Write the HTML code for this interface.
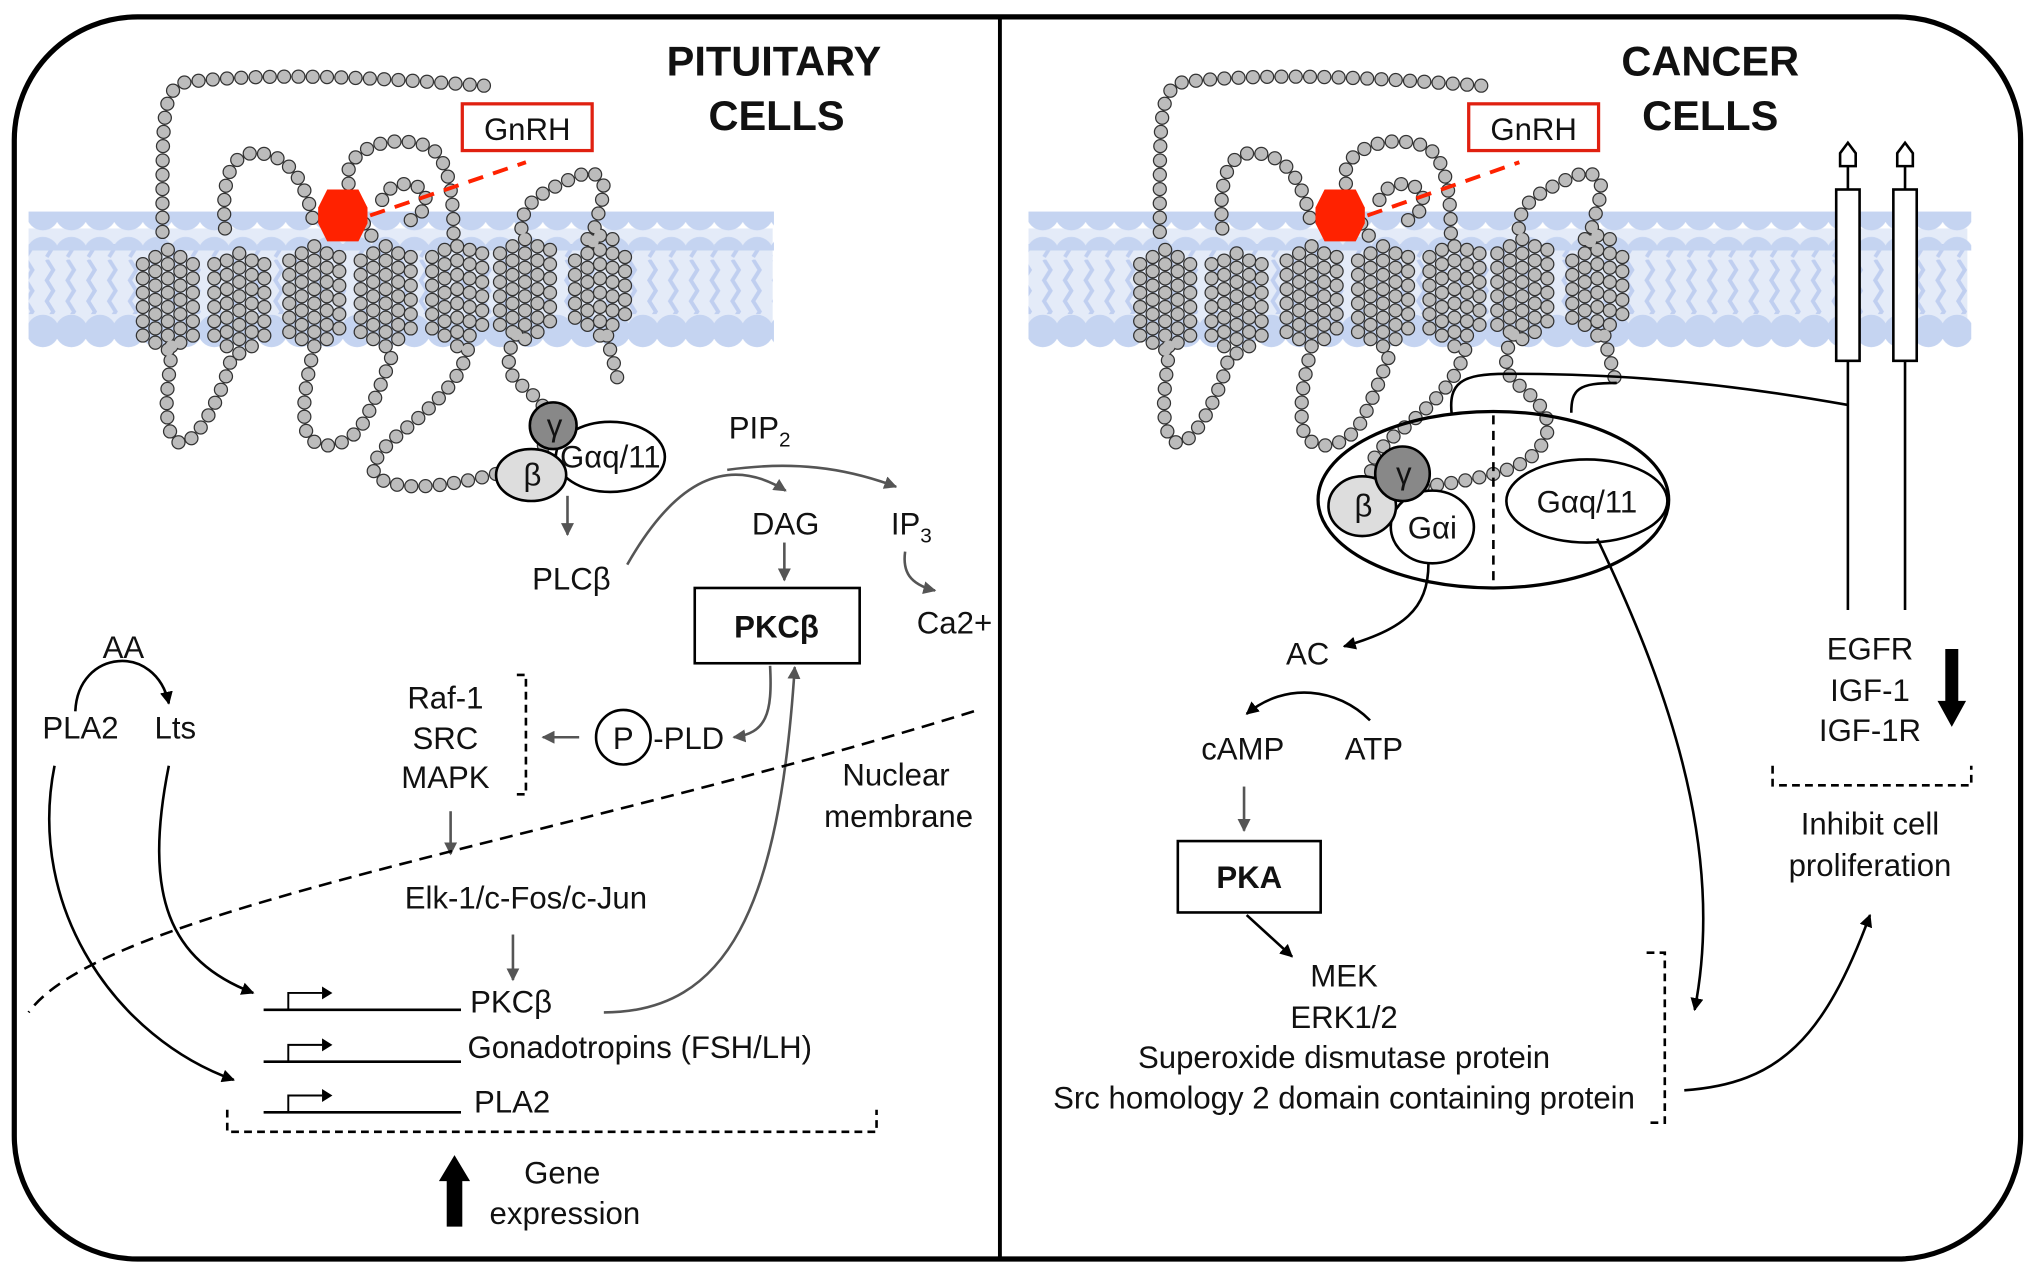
<!DOCTYPE html>
<html><head><meta charset="utf-8"><style>
html,body{margin:0;padding:0;background:#fff}
svg{display:block}
text{font-family:"Liberation Sans",sans-serif;font-size:24px;fill:#111}
.b{font-weight:bold}
</style></head><body>
<svg width="2031" height="1272" viewBox="0 0 1564 980" preserveAspectRatio="none" xmlns="http://www.w3.org/2000/svg">
<defs>
<marker id="ag" viewBox="0 0 10 10" refX="9" refY="5" markerWidth="5" markerHeight="5" orient="auto"><path d="M0,0L10,5L0,10z" fill="#555"/></marker>
<marker id="ab" viewBox="0 0 10 10" refX="9" refY="5" markerWidth="5" markerHeight="5" orient="auto"><path d="M0,0L10,5L0,10z" fill="#000"/></marker>
<pattern id="hp" x="0" y="0" width="22" height="30" patternUnits="userSpaceOnUse"><circle cx="11" cy="15" r="12.5" fill="#c5d4f1"/></pattern>
<pattern id="tp" x="0" y="0" width="16" height="50" patternUnits="userSpaceOnUse"><path d="M4,0 l5,8 -5,8 5,8 -5,8 5,8 -5,8" stroke="#c0cff0" stroke-width="3" fill="none"/></pattern>
<g id="ch">
<path d="M1075,100 C800,80 500,60 240,90 C170,110 175,200 175,520 M200,830 C200,900 170,1000 200,1080 C230,1130 270,1080 300,1030 C340,960 360,900 370,850 M350,500 C340,380 360,300 420,290 C520,280 580,360 600,500 M600,830 C580,920 560,1000 580,1080 C620,1130 700,1110 740,1040 C780,960 800,900 820,850 M760,520 C720,460 680,380 700,320 C740,260 830,240 920,270 C970,300 990,380 990,520 M790,420 C800,380 860,360 900,390 C930,420 900,480 850,480 M1030,840 C1010,920 950,980 870,1050 C790,1110 740,1170 780,1200 C850,1240 980,1220 1100,1190 C1180,1170 1240,1140 1260,1070 C1270,1000 1200,960 1160,920 C1130,880 1150,820 1170,790 M1180,500 C1180,440 1220,410 1280,380 C1340,350 1390,320 1410,380 C1410,440 1380,480 1380,540 M1420,800 C1430,860 1450,900 1450,940"/>
<path d="M120,800V560 M155,820V540 M190,840V530 M225,820V540 M260,800V560"/>
<path d="M320,800V570 M355,830V550 M390,850V540 M425,830V555 M460,800V580"/>
<path d="M530,790V560 M565,810V540 M600,830V520 M635,810V540 M670,780V560"/>
<path d="M730,790V560 M765,810V540 M800,830V520 M835,810V540 M870,780V560"/>
<path d="M930,780V560 M965,800V530 M1000,830V510 M1035,800V530 M1070,770V560"/>
<path d="M1120,770V550 M1155,790V520 M1190,810V500 M1225,790V520 M1260,760V550"/>
<path d="M1330,750V550 M1365,770V520 M1400,800V500 M1435,770V520 M1470,740V560"/>
</g>
</defs>

<!-- membranes -->
<rect x="22" y="176" width="573" height="78" fill="#e4ebf8"/>
<rect x="792" y="176" width="723" height="78" fill="#e4ebf8"/>
<rect x="22" y="188" width="573" height="54" fill="url(#tp)"/>
<rect x="792" y="188" width="723" height="54" fill="url(#tp)"/>
<rect x="22" y="163" width="574" height="30" fill="url(#hp)"/>
<rect x="22" y="238" width="574" height="30" fill="url(#hp)"/>
<rect x="792" y="163" width="726" height="30" fill="url(#hp)"/>
<rect x="792" y="238" width="726" height="30" fill="url(#hp)"/>

<!-- receptors -->
<g transform="scale(0.77006) translate(100,50) scale(0.35714)" fill="none" stroke-linecap="round" stroke-dasharray="0 40">
<use href="#ch" stroke="#333" stroke-width="40"/>
<use href="#ch" stroke="#bcbcbc" stroke-width="33"/>
</g>
<g transform="translate(768,0) scale(0.77006) translate(100,50) scale(0.35714)" fill="none" stroke-linecap="round" stroke-dasharray="0 40">
<use href="#ch" stroke="#333" stroke-width="40"/>
<use href="#ch" stroke="#bcbcbc" stroke-width="33"/>
</g>

<!-- outer frame -->
<rect x="11" y="13" width="1545" height="957" rx="95" fill="none" stroke="#000" stroke-width="4"/>
<line x1="770" y1="13" x2="770" y2="970" stroke="#000" stroke-width="3"/>

<!-- red ligand -->
<polygon points="252,146 276,146 283,160 283,172 276,186 252,186 245,172 245,160" fill="#ff2200"/>
<polygon points="1020,146 1044,146 1051,160 1051,172 1044,186 1020,186 1013,172 1013,160" fill="#ff2200"/>
<line x1="285" y1="166" x2="405" y2="125" stroke="#ff2200" stroke-width="3" stroke-dasharray="12 8"/>
<line x1="1053" y1="166" x2="1170" y2="125" stroke="#ff2200" stroke-width="3" stroke-dasharray="12 8"/>
<rect x="356" y="80" width="100" height="36" fill="none" stroke="#e02010" stroke-width="2.5"/>
<text x="406" y="108" text-anchor="middle">GnRH</text>
<rect x="1131" y="80" width="100" height="36" fill="none" stroke="#e02010" stroke-width="2.5"/>
<text x="1181" y="108" text-anchor="middle">GnRH</text>

<text x="596" y="58" text-anchor="middle" class="b" style="font-size:32px">PITUITARY</text>
<text x="598" y="100" text-anchor="middle" class="b" style="font-size:32px">CELLS</text>
<text x="1317" y="58" text-anchor="middle" class="b" style="font-size:32px">CANCER</text>
<text x="1317" y="100" text-anchor="middle" class="b" style="font-size:32px">CELLS</text>

<!-- LEFT G protein -->
<g stroke="#000" stroke-width="2">
<ellipse cx="470" cy="352" rx="42" ry="27" fill="#fff"/>
<ellipse cx="409" cy="366" rx="27" ry="20" fill="#ddd"/>
<circle cx="426" cy="328" r="18" fill="#888"/>
</g>
<text x="470" y="360" text-anchor="middle">Gαq/11</text>
<text x="410" y="374" text-anchor="middle">β</text>
<text x="427" y="336" text-anchor="middle">γ</text>

<g fill="none" stroke="#555" stroke-width="2">
<path d="M437,382V412" marker-end="url(#ag)"/>
<path d="M483,435 C520,370 560,350 605,378" marker-end="url(#ag)"/>
<path d="M560,362 C610,355 650,360 690,375" marker-end="url(#ag)"/>
<path d="M604,418V447" marker-end="url(#ag)"/>
<path d="M697,425 C695,440 700,450 720,455" marker-end="url(#ag)"/>
<path d="M593,513 C595,550 590,565 565,568" marker-end="url(#ag)"/>
<path d="M446,568H418" marker-end="url(#ag)"/>
<path d="M347,625V658" marker-end="url(#ag)"/>
<path d="M395,720V755" marker-end="url(#ag)"/>
<path d="M465,780 C560,780 600,700 612,514" marker-end="url(#ag)"/>
</g>
<text x="440" y="454" text-anchor="middle">PLCβ</text>
<text x="585" y="338" text-anchor="middle">PIP<tspan dy="6" style="font-size:16px">2</tspan></text>
<text x="605" y="412" text-anchor="middle">DAG</text>
<text x="686" y="412">IP<tspan dy="6" style="font-size:16px">3</tspan></text>
<text x="706" y="488">Ca2+</text>
<rect x="535" y="453" width="127" height="58" fill="#fff" stroke="#000" stroke-width="2"/>
<text x="598" y="491" text-anchor="middle" class="b">PKCβ</text>
<text x="343" y="546" text-anchor="middle">Raf-1</text>
<text x="343" y="577" text-anchor="middle">SRC</text>
<text x="343" y="607" text-anchor="middle">MAPK</text>
<path d="M398,520H405V612H398" fill="none" stroke="#000" stroke-width="2" stroke-dasharray="6 4"/>
<circle cx="480" cy="568" r="21" fill="#fff" stroke="#000" stroke-width="2"/>
<text x="480" y="577" text-anchor="middle">P</text>
<text x="503" y="577">-PLD</text>
<text x="405" y="700" text-anchor="middle">Elk-1/c-Fos/c-Jun</text>
<path d="M750,548 C420,650 80,700 22,780" fill="none" stroke="#000" stroke-width="2" stroke-dasharray="10 6"/>
<text x="690" y="605" text-anchor="middle">Nuclear</text>
<text x="692" y="637" text-anchor="middle">membrane</text>

<text x="95" y="507" text-anchor="middle">AA</text>
<text x="62" y="569" text-anchor="middle">PLA2</text>
<text x="135" y="569" text-anchor="middle">Lts</text>
<g fill="none" stroke="#000" stroke-width="2">
<path d="M58,548 C60,500 120,495 130,542" marker-end="url(#ab)"/>
<path d="M42,590 C20,700 90,800 180,832" marker-end="url(#ab)"/>
<path d="M130,590 C110,690 130,740 195,765" marker-end="url(#ab)"/>
<path d="M203,778H355 M203,818H355 M203,857H355"/>
<path d="M222,778V765H248 M222,818V805H248 M222,857V844H248" stroke-width="1.5"/>
</g>
<g fill="#000"><path d="M248,760l8,5 -8,5z M248,800l8,5 -8,5z M248,839l8,5 -8,5z"/></g>
<text x="362" y="780">PKCβ</text>
<text x="360" y="815">Gonadotropins (FSH/LH)</text>
<text x="365" y="857">PLA2</text>
<path d="M175,855V872H675V855" fill="none" stroke="#000" stroke-width="2" stroke-dasharray="6 4"/>
<path d="M344,945V910H338L350,890 362,910H356V945z" fill="#000"/>
<text x="433" y="912" text-anchor="middle">Gene</text>
<text x="435" y="943" text-anchor="middle">expression</text>

<!-- RIGHT G protein complex -->
<ellipse cx="1150" cy="385" rx="135" ry="68" fill="none" stroke="#000" stroke-width="2.5"/>
<line x1="1150" y1="320" x2="1150" y2="452" stroke="#000" stroke-width="2" stroke-dasharray="7 5"/>
<g stroke="#000" stroke-width="2">
<ellipse cx="1103" cy="406" rx="32" ry="28" fill="#fff"/>
<ellipse cx="1049" cy="390" rx="26" ry="23" fill="#ddd"/>
<circle cx="1080" cy="365" r="21" fill="#888"/>
<ellipse cx="1222" cy="386" rx="62" ry="32" fill="#fff"/>
</g>
<text x="1103" y="415" text-anchor="middle">Gαi</text>
<text x="1050" y="398" text-anchor="middle">β</text>
<text x="1081" y="373" text-anchor="middle">γ</text>
<text x="1222" y="395" text-anchor="middle">Gαq/11</text>

<!-- EGFR -->
<g fill="#fff" stroke="#000" stroke-width="2">
<rect x="1414" y="146" width="18" height="132"/>
<rect x="1458" y="146" width="18" height="132"/>
<path d="M1423,146V128 M1467,146V128" fill="none"/>
<path d="M1417,118 l6,-8 6,8 v10 h-12z M1461,118 l6,-8 6,8 v10 h-12z"/>
</g>
<g fill="none" stroke="#000" stroke-width="2">
<path d="M1423,278V470 M1467,278V470"/>
<path d="M1118,320 C1115,295 1125,288 1160,288 C1220,288 1300,290 1423,312"/>
<path d="M1210,318 C1210,300 1215,295 1245,295"/>
<path d="M1100,434 C1100,470 1080,485 1035,498" marker-end="url(#ab)"/>
<path d="M1055,555 C1030,530 990,525 960,550" marker-end="url(#ab)"/>
<path d="M960,705 L995,737" marker-end="url(#ab)"/>
<path d="M1230,415 C1280,520 1330,650 1305,778" marker-end="url(#ab)"/>
<path d="M1297,840 C1370,835 1405,800 1440,705" marker-end="url(#ab)"/>
</g>
<path d="M958,606V640" fill="none" stroke="#555" stroke-width="2" marker-end="url(#ag)"/>
<text x="1007" y="512" text-anchor="middle">AC</text>
<text x="957" y="585" text-anchor="middle">cAMP</text>
<text x="1058" y="585" text-anchor="middle">ATP</text>
<rect x="907" y="648" width="110" height="55" fill="#fff" stroke="#000" stroke-width="2"/>
<text x="962" y="684" text-anchor="middle" class="b">PKA</text>
<text x="1035" y="760" text-anchor="middle">MEK</text>
<text x="1035" y="792" text-anchor="middle">ERK1/2</text>
<text x="1035" y="823" text-anchor="middle">Superoxide dismutase protein</text>
<text x="1035" y="854" text-anchor="middle">Src homology 2 domain containing protein</text>
<path d="M1268,734H1282V865H1268" fill="none" stroke="#000" stroke-width="2" stroke-dasharray="6 4"/>
<text x="1440" y="508" text-anchor="middle">EGFR</text>
<text x="1440" y="540" text-anchor="middle">IGF-1</text>
<text x="1440" y="571" text-anchor="middle">IGF-1R</text>
<path d="M1498,500V540H1492L1503,560 1514,540H1508V500z" fill="#000"/>
<path d="M1365,590V605H1518V590" fill="none" stroke="#000" stroke-width="2" stroke-dasharray="6 4"/>
<text x="1440" y="643" text-anchor="middle">Inhibit cell</text>
<text x="1440" y="675" text-anchor="middle">proliferation</text>
</svg>
</body></html>
